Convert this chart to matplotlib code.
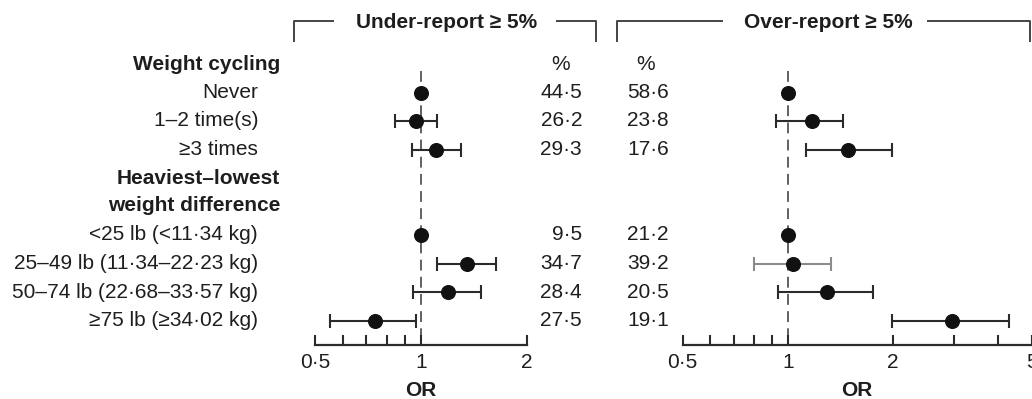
import numpy as np
import matplotlib
matplotlib.use("Agg")
import matplotlib.pyplot as plt
from matplotlib.lines import Line2D
from matplotlib.transforms import blended_transform_factory

plt.rcParams["font.family"] = ["Liberation Sans", "DejaVu Sans"]

# Datos
row_labels = ["Never", "1–2 time(s)", "≥3 times",
              "<25 lb (<11·34 kg)", "25–49 lb (11·34–22·23 kg)",
              "50–74 lb (22·68–33·57 kg)", "≥75 lb (≥34·02 kg)"]
row_pos = [1, 2, 3, 6, 7, 8, 9]
group_labels = ["Weight cycling", "Heaviest–lowest\nweight difference"]
group_pos = [0, 4.5]

under_or = [1.0, 0.97, 1.105, 1.0, 1.353, 1.192, 0.738]
under_lo = [np.nan, 0.841, 0.941, np.nan, 1.11, 0.948, 0.55]
under_hi = [np.nan, 1.11, 1.295, np.nan, 1.636, 1.483, 0.965]
under_pct = ["44·5", "26·2", "29·3", "9·5", "34·7", "28·4", "27·5"]

over_or = [1.0, 1.172, 1.492, 1.0, 1.038, 1.294, 2.95]
over_lo = [np.nan, 0.924, 1.128, np.nan, 0.802, 0.936, 1.986]
over_hi = [np.nan, 1.443, 1.986, np.nan, 1.328, 1.76, 4.32]
over_pct = ["58·6", "23·8", "17·6", "21·2", "39·2", "20·5", "19·1"]

W, H = 1032, 399
fig = plt.figure(figsize=(W / 100, H / 100), dpi=100)

# posiciones en píxeles -> fracción de figura
def fx(px):
    return px / W

def fy(py):
    return 1 - py / H

row_y0, row_dy = 64, 28.5
y_bottom_px, y_top_px = 345, 50
ylim = ((y_bottom_px - row_y0) / row_dy, (y_top_px - row_y0) / row_dy)

ax_l = fig.add_axes([fx(315), fy(y_bottom_px), fx(527 - 315), fy(y_top_px) - fy(y_bottom_px)])
ax_r = fig.add_axes([fx(682.7), fy(y_bottom_px), fx(1031.5 - 682.7), fy(y_top_px) - fy(y_bottom_px)])

dark = "#2b2b2b"
txt = "#1e1e1e"
fs = 15


def panel(ax, ors, los, his, xlim, majors, major_lbls, minors, ci_colors):
    ax.set_xscale("log")
    ax.set_xlim(*xlim)
    ax.set_ylim(*ylim)
    for s in ["top", "left", "right"]:
        ax.spines[s].set_visible(False)
    ax.spines["bottom"].set_linewidth(1.6)
    ax.spines["bottom"].set_color(dark)
    ax.set_yticks([])
    ax.xaxis.set_major_locator(matplotlib.ticker.FixedLocator(majors))
    ax.xaxis.set_major_formatter(matplotlib.ticker.FixedFormatter(major_lbls))
    ax.xaxis.set_minor_locator(matplotlib.ticker.FixedLocator(minors))
    ax.xaxis.set_minor_formatter(matplotlib.ticker.NullFormatter())
    ax.tick_params(axis="x", which="both", direction="in", length=7, width=1.5,
                   color=dark, labelsize=fs, labelcolor=txt, pad=6)
    ax.patch.set_visible(False)
    ax.vlines(1, row_pos[0] - 0.75, ylim[0], colors="#555555", linestyles=(0, (6, 3.5)),
              linewidth=1.3, zorder=1)
    for y, o, lo, hi, c in zip(row_pos, ors, los, his, ci_colors):
        if not np.isnan(lo):
            ax.errorbar(o, y, xerr=[[o - lo], [hi - o]], fmt="none", ecolor=c,
                        elinewidth=1.5, capsize=4.8, capthick=1.5, zorder=2)
        ax.plot(o, y, "o", color="#111111", markersize=9.8, zorder=3)
    ax.set_xlabel("OR", fontsize=fs, fontweight="bold", labelpad=6)
    ax.xaxis.label.set_color(txt)


panel(ax_l, under_or, under_lo, under_hi, (0.5, 2), [0.5, 1, 2], ["0·5", "1", "2"],
      [0.6, 0.7, 0.8, 0.9], [dark] * 7)
panel(ax_r, over_or, over_lo, over_hi, (0.5, 5), [0.5, 1, 2, 5], ["0·5", "1", "2", "5"],
      [0.6, 0.7, 0.8, 0.9, 3, 4], [dark] * 4 + ["#8c8c8c"] + [dark] * 2)

# etiquetas de filas
tr = blended_transform_factory(fig.transFigure, ax_l.transData)
for lbl, y in zip(row_labels, row_pos):
    fig.text(fx(258), y, lbl, transform=tr, ha="right", va="center", fontsize=fs, color=txt)
for lbl, y in zip(group_labels, group_pos):
    fig.text(fx(280), y, lbl, transform=tr, ha="right", va="center", fontsize=fs,
             fontweight="bold", color=txt, linespacing=1.5)

# columnas de %
fig.text(fx(561), 0, "%", transform=tr, ha="center", va="center", fontsize=fs, color=txt)
fig.text(fx(646), 0, "%", transform=tr, ha="center", va="center", fontsize=fs, color=txt)
for y, a, b in zip(row_pos, under_pct, over_pct):
    fig.text(fx(582), y, a, transform=tr, ha="right", va="center", fontsize=fs, color=txt)
    fig.text(fx(627), y, b, transform=tr, ha="left", va="center", fontsize=fs, color=txt)

# corchetes de encabezado
def bracket(x0, x1, t0, t1, title, xc):
    yl, yv = fy(21), fy(41)
    kw = dict(color="#444444", linewidth=1.4, transform=fig.transFigure)
    fig.add_artist(Line2D([fx(x0), fx(x0), fx(t0)], [yv, yl, yl], **kw))
    fig.add_artist(Line2D([fx(t1), fx(x1), fx(x1)], [yl, yl, yv], **kw))
    fig.text(fx(xc), fy(22), title, ha="center", va="center", fontsize=fs,
             fontweight="bold", color=txt)

bracket(294, 596, 333, 557, "Under-report ≥ 5%", 447)
bracket(617, 1030, 722, 928, "Over-report ≥ 5%", 828)

fig.savefig("out.png", dpi=100)
